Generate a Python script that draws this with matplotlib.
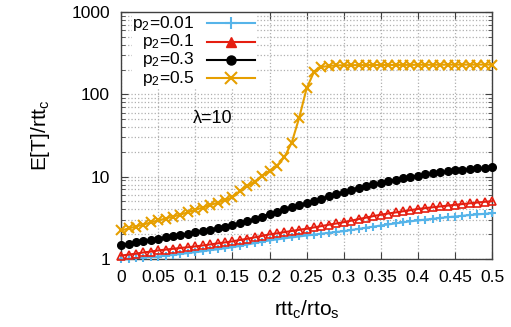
import numpy
import matplotlib
matplotlib.use('Agg')
import matplotlib.pyplot as plt
from matplotlib.patches import Rectangle

plt.rcParams['font.family'] = ['Liberation Sans', 'DejaVu Sans']
plt.rcParams['mathtext.fontset'] = 'custom'
plt.rcParams['mathtext.rm'] = 'Liberation Sans'
plt.rcParams['mathtext.it'] = 'Liberation Sans'

ratio = [round(0.01 * i, 2) for i in range(51)]

p2_001 = [1.00, 1.01, 1.03, 1.04, 1.06, 1.07, 1.10, 1.12, 1.15, 1.18,
          1.21, 1.24, 1.28, 1.31, 1.35, 1.39, 1.44, 1.50, 1.56, 1.62,
          1.68, 1.73, 1.78, 1.83, 1.88, 1.93, 1.98, 2.03, 2.08, 2.13,
          2.18, 2.25, 2.32, 2.40, 2.47, 2.55, 2.63, 2.71, 2.79, 2.87,
          2.94, 3.01, 3.08, 3.15, 3.22, 3.28, 3.35, 3.42, 3.48, 3.54,
          3.60]
p2_01 = [1.10, 1.13, 1.16, 1.20, 1.23, 1.27, 1.30, 1.33, 1.36, 1.39,
         1.42, 1.46, 1.50, 1.55, 1.59, 1.64, 1.70, 1.76, 1.83, 1.91,
         1.99, 2.05, 2.12, 2.19, 2.26, 2.33, 2.42, 2.51, 2.61, 2.70,
         2.80, 2.92, 3.05, 3.18, 3.32, 3.45, 3.57, 3.68, 3.80, 3.92,
         4.05, 4.15, 4.25, 4.35, 4.45, 4.55, 4.65, 4.75, 4.85, 4.95,
         5.04]
p2_03 = [1.49, 1.54, 1.59, 1.65, 1.70, 1.76, 1.83, 1.89, 1.96, 2.04,
         2.12, 2.20, 2.28, 2.37, 2.46, 2.56, 2.72, 2.88, 3.05, 3.28,
         3.54, 3.76, 4.00, 4.24, 4.50, 4.77, 5.08, 5.42, 5.78, 6.14,
         6.50, 6.90, 7.30, 7.70, 8.05, 8.40, 8.80, 9.20, 9.60, 9.95,
         10.3, 10.65, 10.95, 11.3, 11.6, 11.9, 12.15, 12.4, 12.6, 12.8,
         13.0]
p2_05 = [2.22, 2.35, 2.48, 2.62, 2.78, 2.94, 3.10, 3.28, 3.46, 3.70,
         3.96, 4.22, 4.50, 4.84, 5.20, 5.60, 6.70, 7.60, 8.70, 10.2,
         11.8, 13.6, 17.2, 26.0, 52.0, 118.0, 188.0, 215.0, 222.0, 225.0,
         226.0, 226.5, 227.0, 227.0, 227.5, 227.5, 228.0, 228.0, 228.5, 228.5,
         229.0, 229.0, 229.0, 229.5, 229.5, 229.5, 230.0, 230.0, 230.0, 230.0,
         230.0]

labels = ['p$_2$=0.01', 'p$_2$=0.1', 'p$_2$=0.3', 'p$_2$=0.5']
series = [p2_001, p2_01, p2_03, p2_05]
colors = ['#56b4e9', '#e51e10', 'black', '#e69f00']
markers = ['+', '^', 'o', 'x']

fig = plt.figure(figsize=(5.11, 3.27), dpi=100)
axes = fig.add_axes([0.237, 0.208, 0.726, 0.755])

styles = [dict(markersize=6, markeredgewidth=1.5),
          dict(markersize=5.5, markeredgewidth=1.2, markerfacecolor='none'),
          dict(markersize=5.5),
          dict(markersize=6.5, markeredgewidth=1.5)]

for values, color, marker, style in zip(series, colors, markers, styles):
    axes.plot(ratio, values, color=color, marker=marker, linewidth=1.5,
              clip_on=False, zorder=3, **style)

axes.set_yscale('log')
axes.set_xlim(0, 0.5)
axes.set_ylim(1, 1000)
axes.set_xticks(numpy.arange(0, 0.501, 0.05))
axes.set_xticklabels(['0', '0.05', '0.1', '0.15', '0.2', '0.25', '0.3',
                      '0.35', '0.4', '0.45', '0.5'])
axes.set_yticks([1, 10, 100, 1000])
axes.set_yticklabels(['1', '10', '100', '1000'])
axes.tick_params(which='both', direction='in', top=True, right=True,
                 labelsize=12.5, pad=8, color='#404040')
axes.tick_params(which='major', length=5)
axes.tick_params(which='minor', length=3)
axes.grid(which='major', color='#b0b0b0', linestyle=':', linewidth=0.9)
axes.grid(which='minor', axis='y', color='#b0b0b0', linestyle=':', linewidth=0.9)
for spine in axes.spines.values():
    spine.set_color('#404040')
    spine.set_linewidth(1.0)

axes.set_xlabel('rtt$_\\mathregular{c}$/rto$_\\mathregular{s}$', fontsize=15, labelpad=10)
axes.set_ylabel('E[T]/rtt$_\\mathregular{c}$', fontsize=15, labelpad=14)

# gnuplot-like key: labels right aligned, sample line after
axes.add_patch(Rectangle((0.03, 0.692), 0.337, 0.306, transform=axes.transAxes,
                         facecolor='white', edgecolor='none', zorder=2))
rows = [0.954, 0.880, 0.806, 0.732]
key_styles = [dict(markersize=8, markeredgewidth=1.5),
              dict(markersize=7),
              dict(markersize=6.5),
              dict(markersize=8, markeredgewidth=1.5)]
for label, color, marker, style, row in zip(labels, colors, markers, key_styles, rows):
    axes.text(0.197, row, label, transform=axes.transAxes, ha='right',
              va='center', fontsize=12.5, zorder=4)
    axes.plot([0.232, 0.361], [row, row], color=color, linewidth=1.5,
              transform=axes.transAxes, zorder=4)
    axes.plot([0.297], [row], color=color, marker=marker, linestyle='none',
              transform=axes.transAxes, zorder=4, **style)

axes.text(0.248, 0.571, '\u03bb=10', transform=axes.transAxes, ha='center',
          va='center', fontsize=13)

fig.savefig('out.png', dpi=100)
